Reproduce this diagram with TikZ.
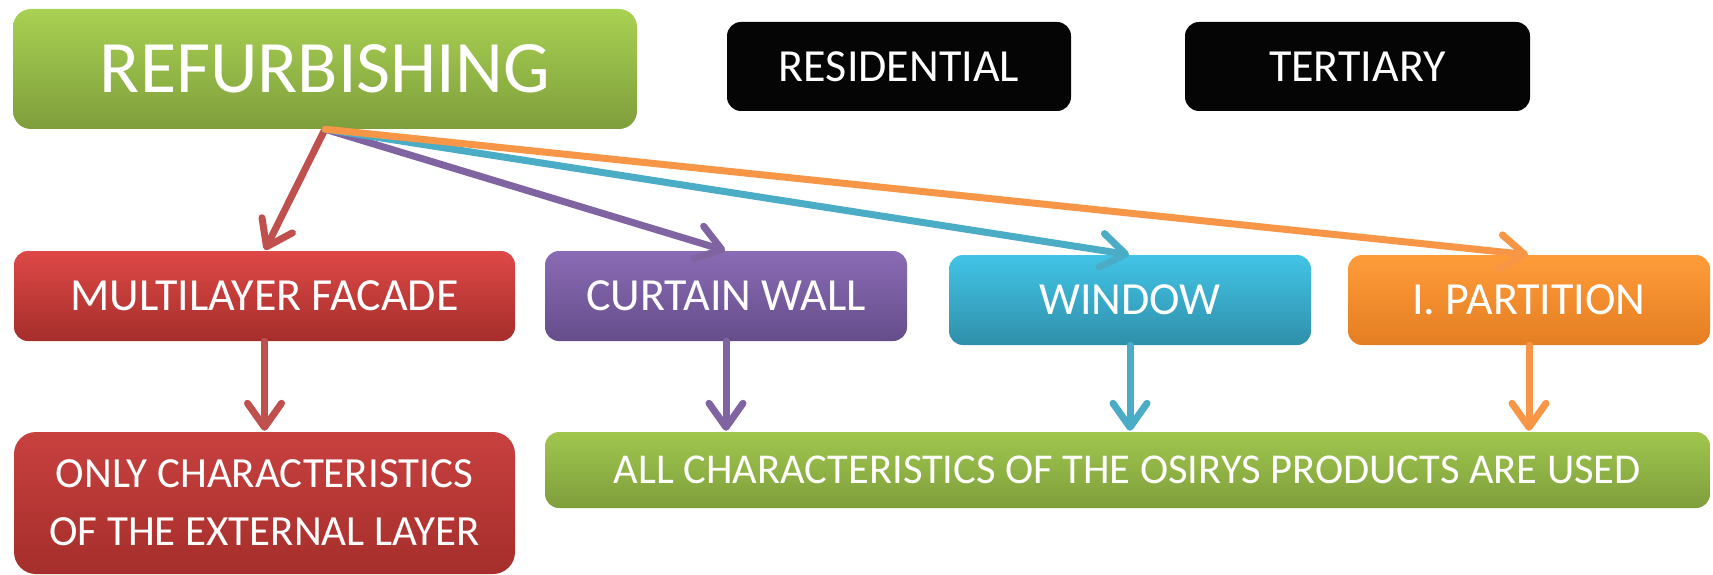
\documentclass[tikz,border=0pt]{standalone}
\usepackage{fontspec}
\setmainfont{Carlito}
\usetikzlibrary{arrows.meta}
\definecolor{gtop}{HTML}{A9D152}
\definecolor{gbot}{HTML}{7E9E3C}
\definecolor{rtop}{HTML}{DE4846}
\definecolor{rbot}{HTML}{A52E2B}
\definecolor{ptop}{HTML}{8A6BB5}
\definecolor{pbot}{HTML}{654D8A}
\definecolor{ctop}{HTML}{42C4E6}
\definecolor{cbot}{HTML}{2F8FAA}
\definecolor{otop}{HTML}{FF9C3A}
\definecolor{obot}{HTML}{E47E22}
\definecolor{blk}{HTML}{050505}
\definecolor{ared}{HTML}{C0504D}
\definecolor{apur}{HTML}{8064A2}
\definecolor{acya}{HTML}{4BACC6}
\definecolor{aora}{HTML}{F79646}
\tikzset{
  box/.style={rectangle, rounded corners=14pt, text=white, inner sep=0pt, align=center,
    font=\fontsize{46}{56}\selectfont},
  conn/.style={line width=7pt, line cap=round, line join=round, shorten >=1pt,
    -{Straight Barb[length=24pt,width=34pt,line cap=round,line join=round]}},
}
\begin{document}
\begin{tikzpicture}[x=1pt,y=-1pt]
\useasboundingbox (0,0) rectangle (1713,575);
\node[box, top color=gtop, bottom color=gbot, minimum width=624pt, minimum height=120pt,
  rounded corners=18pt, font=\fontsize{74}{80}\selectfont] (ref) at (325,69) {REFURBISHING};
\node[box, fill=blk, minimum width=344pt, minimum height=89pt] (res) at (899,66.5) {RESIDENTIAL};
\node[box, fill=blk, minimum width=345pt, minimum height=89pt] (ter) at (1357.5,66.5) {TERTIARY};
\node[box, top color=rtop, bottom color=rbot, minimum width=501pt, minimum height=90pt] (mf) at (264.5,296) {MULTILAYER FACADE};
\node[box, top color=ptop, bottom color=pbot, minimum width=362pt, minimum height=90pt] (cw) at (726,296) {CURTAIN WALL};
\node[box, top color=ctop, bottom color=cbot, minimum width=362pt, minimum height=90pt] (win) at (1130,300) {WINDOW};
\node[box, top color=otop, bottom color=obot, minimum width=362pt, minimum height=90pt] (ip) at (1529,300) {I. PARTITION};
\node[box, top color=rtop!90!black, bottom color=rbot, minimum width=501pt, minimum height=142pt,
  rounded corners=22pt, font=\fontsize{43}{58}\selectfont] (only) at (264.5,503) {ONLY CHARACTERISTICS\\OF THE EXTERNAL LAYER};
\node[box, top color=gtop!95!black, bottom color=gbot, minimum width=1165pt, minimum height=76pt,
  font=\fontsize{42.5}{50}\selectfont] (all) at (1127.5,470) {ALL CHARACTERISTICS OF THE OSIRYS PRODUCTS ARE USED};
\draw[conn, ared] (ref.south) -- (mf.north);
\draw[conn, apur] (ref.south) -- (cw.north);
\draw[conn, acya] (ref.south) -- (win.north);
\draw[conn, aora] (ref.south) -- (ip.north);
\draw[conn, ared] (mf.south) -- (only.north);
\draw[conn, apur] (cw.south) -- (cw.south |- all.north);
\draw[conn, acya] (win.south) -- (win.south |- all.north);
\draw[conn, aora] (ip.south) -- (ip.south |- all.north);
\end{tikzpicture}
\end{document}
